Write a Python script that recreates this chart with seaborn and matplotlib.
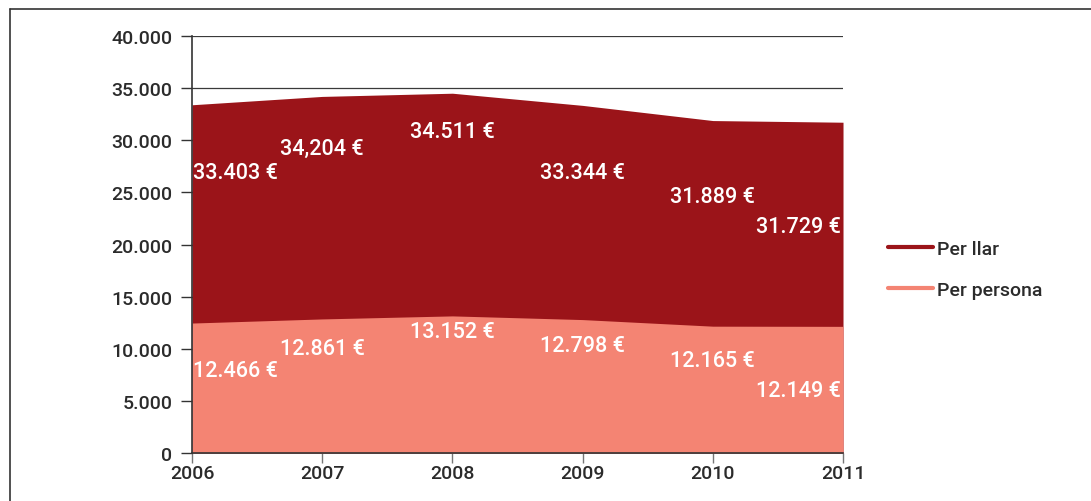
import matplotlib
matplotlib.use("Agg")
import matplotlib.pyplot as plt
from matplotlib.lines import Line2D
import seaborn as sns
import pandas as pd

# data
years = [2006, 2007, 2008, 2009, 2010, 2011]
per_llar = [33403, 34204, 34511, 33344, 31889, 31729]
per_persona = [12466, 12861, 13152, 12798, 12165, 12149]
llar_labels = ["33.403 €", "34,204 €", "34.511 €", "33.344 €", "31.889 €", "31.729 €"]
persona_labels = ["12.466 €", "12.861 €", "13.152 €", "12.798 €", "12.165 €", "12.149 €"]
# vertical placement of the value labels (in data units)
llar_label_y = [26950, 29250, 30800, 26950, 24650, 21700]
persona_label_y = [7870, 9980, 11700, 10360, 8920, 6040]

DARK = "#9B1419"
LIGHT = "#F48473"
TEXT = "#2b2b2b"

sns.set_theme(style="white")
plt.rcParams["font.family"] = ["Roboto", "DejaVu Sans"]
plt.rcParams["font.weight"] = 500

df = pd.DataFrame({"Any": years * 2,
                   "Valor": per_llar + per_persona,
                   "Serie": ["Per llar"] * 6 + ["Per persona"] * 6})

fig = plt.figure(figsize=(10.91, 5.02), dpi=100)
ax = fig.add_axes([0.176, 0.0956, 0.5967, 0.8307])

# grid lines below the areas
for v in range(5000, 40001, 5000):
    ax.axhline(v, color="#3a3a3a", lw=0.9, zorder=0)

ax.fill_between(years, per_llar, color=DARK, lw=0, zorder=1)
ax.fill_between(years, per_persona, color=LIGHT, lw=0, zorder=2)
sns.lineplot(data=df, x="Any", y="Valor", hue="Serie", palette=[DARK, LIGHT],
             lw=0, ax=ax, legend=False, zorder=3)

aligns = ["left", "center", "center", "center", "center", "right"]
offsets = [0.01, 0.0, 0.0, 0.0, 0.0, -0.015]
for i, yr in enumerate(years):
    ax.text(yr + offsets[i], llar_label_y[i], llar_labels[i], color="white",
            fontsize=15.5, ha=aligns[i], va="center", zorder=4)
    ax.text(yr + offsets[i], persona_label_y[i], persona_labels[i], color="white",
            fontsize=15.5, ha=aligns[i], va="center", zorder=4)

ax.set_xlim(2006, 2011)
ax.set_ylim(0, 40000)
ax.set_xticks(years)
ax.set_xticklabels([str(y) for y in years])
ax.set_yticks(range(0, 40001, 5000))
ax.set_yticklabels(["0"] + [f"{v // 1000}.000" for v in range(5000, 40001, 5000)])
ax.set_xlabel("")
ax.set_ylabel("")

for s in ["top", "right"]:
    ax.spines[s].set_visible(False)
for s in ["left", "bottom"]:
    ax.spines[s].set_color("#333333")
    ax.spines[s].set_linewidth(1.2)
    ax.spines[s].set_zorder(5)

ax.tick_params(axis="y", length=8, width=1, color="#333333", labelsize=14,
               labelcolor=TEXT, pad=6, left=True)
ax.tick_params(axis="x", length=7, width=1, color="#777777", labelsize=14,
               labelcolor=TEXT, pad=1, bottom=True)

handles = [Line2D([], [], color=DARK, lw=3), Line2D([], [], color=LIGHT, lw=3)]
fig.legend(handles, ["Per llar", "Per persona"], loc="upper left",
           bbox_to_anchor=(0.805, 0.539), frameon=False, fontsize=14,
           handlelength=2.3, handletextpad=0.2, labelspacing=1.15,
           borderpad=0, labelcolor=TEXT)

# outer frame (top and left edges only visible)
fig.add_artist(Line2D([10 / 1091, 1.0], [1 - 10 / 502, 1 - 10 / 502],
                      color="#333333", lw=1.2, transform=fig.transFigure))
fig.add_artist(Line2D([10 / 1091, 10 / 1091], [0.0, 1 - 10 / 502],
                      color="#333333", lw=1.2, transform=fig.transFigure))

fig.savefig("out.png", dpi=100)
